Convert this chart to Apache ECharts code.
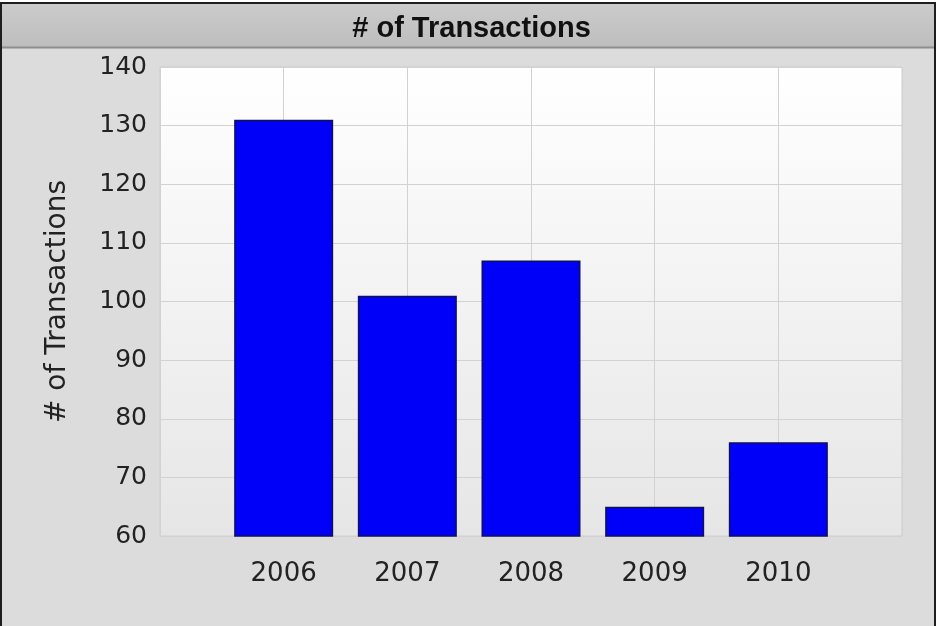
<!DOCTYPE html>
<html>
<head>
<meta charset="utf-8">
<script src="https://cdn.jsdelivr.net/npm/echarts@6/dist/echarts.min.js"></script>
<style>html,body{margin:0;padding:0;background:#fff;}#c{width:943px;height:626px;}</style>
</head>
<body>
<div id="c"></div>
<script>
var years = [2006, 2007, 2008, 2009, 2010];
var transactions = [131, 101, 107, 65, 76];
var yTicks = [60, 70, 80, 90, 100, 110, 120, 130, 140];
var titleText = '# of Transactions';
var yAxisName = '# of Transactions';

var chart = echarts.init(document.getElementById('c'), null, {renderer: 'canvas'});
var seriesData = years.map(function (y, i) { return [y, transactions[i]]; });

chart.setOption({
  backgroundColor: '#ffffff',
  animation: false,
  graphic: [
    {type: 'rect', z: -100, shape: {x: 1, y: 3, width: 934, height: 630},
     style: {fill: '#dcdcdc', stroke: '#1e1e1e', lineWidth: 2}},
    {type: 'rect', z: -99, shape: {x: 2, y: 4, width: 932, height: 43},
     style: {fill: new echarts.graphic.LinearGradient(0, 0, 0, 1, [
       {offset: 0, color: '#cbcbcb'}, {offset: 1, color: '#bebebe'}])}},
    {type: 'line', z: -98, shape: {x1: 2, y1: 47.5, x2: 934, y2: 47.5},
     style: {stroke: '#8e8e8e', lineWidth: 2}}
  ],
  title: {
    text: titleText,
    left: 'center',
    top: 9,
    textStyle: {fontFamily: 'Liberation Sans', fontWeight: 'bold', fontSize: 29, color: '#111'}
  },
  grid: {
    left: 160, right: 41, top: 67, bottom: 90,
    show: true,
    borderColor: '#cfcfcf',
    borderWidth: 1,
    backgroundColor: new echarts.graphic.LinearGradient(0, 0, 0, 1, [
      {offset: 0, color: '#ffffff'}, {offset: 1, color: '#e6e6e6'}])
  },
  xAxis: {
    type: 'value',
    min: 2005, max: 2011, interval: 1,
    axisLine: {show: false},
    axisTick: {show: false},
    splitLine: {show: true, lineStyle: {color: '#d2d2d2', width: 1}},
    axisLabel: {
      margin: 25,
      fontFamily: 'DejaVu Sans', fontSize: 26, color: '#222',
      formatter: function (v) { return years.indexOf(v) >= 0 ? String(v) : ''; }
    }
  },
  yAxis: {
    type: 'value',
    min: yTicks[0], max: yTicks[yTicks.length - 1], interval: 10,
    name: yAxisName,
    nameLocation: 'middle',
    nameGap: 88,
    nameTextStyle: {fontFamily: 'DejaVu Sans', fontSize: 28, color: '#222'},
    axisLine: {show: false},
    axisTick: {show: false},
    splitLine: {show: true, lineStyle: {color: '#d2d2d2', width: 1}},
    axisLabel: {margin: 13, fontFamily: 'DejaVu Sans', fontSize: 25, color: '#222'}
  },
  series: [{
    type: 'bar',
    data: seriesData,
    barWidth: 99,
    itemStyle: {
      color: '#0000f8',
      borderColor: '#10105a',
      borderWidth: 1.5
    }
  }]
});
</script>
</body>
</html>
